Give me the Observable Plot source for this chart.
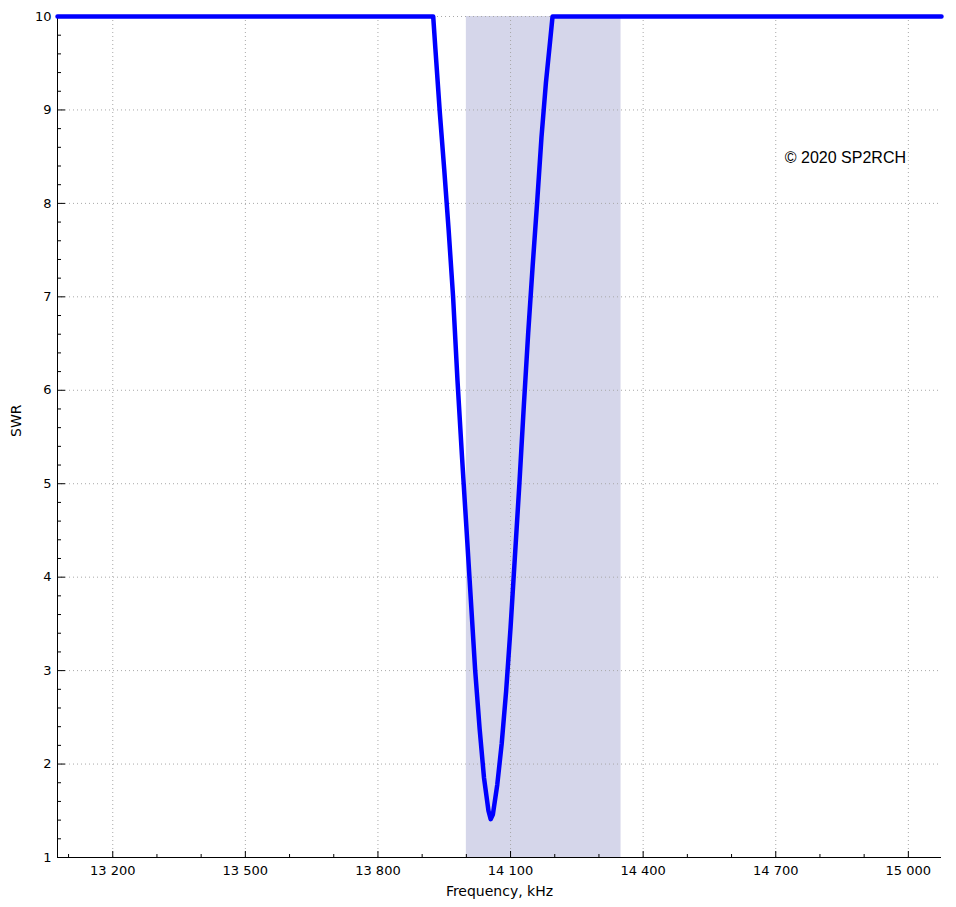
<!DOCTYPE html>
<html>
<head>
<meta charset="utf-8">
<script src="https://cdn.jsdelivr.net/npm/d3@7"></script>
<script src="https://cdn.jsdelivr.net/npm/@observablehq/plot@0.6"></script>
<style>
  body { margin: 0; background: #ffffff; }
  #chart svg { display: block; }
</style>
</head>
<body>
<div id="chart"></div>
<script>
// Measured SWR curve (frequency in kHz)
const freq = [13075, 13925, 13930, 13940, 13950, 13960, 13970, 13980, 13990, 14000,
              14010, 14020, 14030, 14040, 14050, 14055, 14060, 14070, 14080, 14090, 14100,
              14110, 14120, 14130, 14140, 14150, 14160, 14170, 14180, 14190, 14195, 15075];
const swr  = [10, 10, 9.65, 8.97, 8.36, 7.71, 7.0, 6.1, 5.3, 4.54,
              3.77, 3.0, 2.38, 1.85, 1.5, 1.41, 1.46, 1.78, 2.22, 2.78, 3.46,
              4.23, 5.0, 5.83, 6.62, 7.33, 8.0, 8.71, 9.29, 9.76, 10, 10];

// 20 m amateur band
const bandStart = [14000];
const bandEnd = [14350];

// Axes
const xDomain = [13075, 15075];
const yDomain = [1, 10];
const xMajorTicks = [13200, 13500, 13800, 14100, 14400, 14700, 15000];
const xMinorTicks = [13100, 13300, 13400, 13600, 13700, 13900, 14000, 14200, 14300,
                     14500, 14600, 14800, 14900];
const yMajorTicks = [1, 2, 3, 4, 5, 6, 7, 8, 9, 10];
const yMinorTicks = [1.2, 1.4, 1.6, 1.8, 2.2, 2.4, 2.6, 2.8, 3.2, 3.4, 3.6, 3.8,
                     4.2, 4.4, 4.6, 4.8, 5.2, 5.4, 5.6, 5.8, 6.2, 6.4, 6.6, 6.8,
                     7.2, 7.4, 7.6, 7.8, 8.2, 8.4, 8.6, 8.8, 9.2, 9.4, 9.6, 9.8];

const xLabel = "Frequency, kHz";
const yLabel = "SWR";
const note = "© 2020 SP2RCH";

const data = freq.map((f, i) => ({f, s: swr[i]}));
const band = bandStart.map((s, i) => ({start: s, end: bandEnd[i]}));

const W = 956, H = 907;
const mL = 57, mR = 15, mT = 16, mB = 50;
const frameW = W - mL - mR;
const frameH = H - mT - mB;

const fmt = d => d3.format(",")(d).replace(/,/g, " ");
const gridStyle = {stroke: "#a8a8a8", strokeWidth: 1, strokeDasharray: "1,3"};

const plot = Plot.plot({
  width: W,
  height: H,
  marginLeft: mL,
  marginRight: mR,
  marginTop: mT,
  marginBottom: mB,
  style: {fontFamily: "'DejaVu Sans', sans-serif", fontSize: "13px", color: "#000", background: "#fff"},
  x: {domain: xDomain, ticks: xMajorTicks, tickFormat: fmt, tickSize: 0, tickPadding: 8, label: null},
  y: {domain: yDomain, ticks: yMajorTicks, tickSize: 0, tickPadding: 6, label: null},
  marks: [
    Plot.rect(band, {x1: "start", x2: "end", fill: "#d5d6ea"}),
    Plot.ruleX(xMajorTicks, gridStyle),
    Plot.ruleY(yMajorTicks.filter(v => v > yDomain[0]), gridStyle),
    // inward ticks
    Plot.ruleX(xMajorTicks, {insetTop: frameH - 6, stroke: "#000"}),
    Plot.ruleX(xMinorTicks, {insetTop: frameH - 3, stroke: "#000"}),
    Plot.ruleY(yMajorTicks, {insetRight: frameW - 8, stroke: "#000"}),
    Plot.ruleY(yMinorTicks, {insetRight: frameW - 4, stroke: "#000"}),
    // axis lines
    Plot.ruleX([xDomain[0]], {stroke: "#000"}),
    Plot.ruleY([yDomain[0]], {stroke: "#000"}),
    // SWR curve
    Plot.line(data, {x: "f", y: "s", stroke: "#0000ff", strokeWidth: 4.5, strokeLinejoin: "round"}),
    // labels
    Plot.text([xLabel], {text: d => d, frameAnchor: "bottom", lineAnchor: "middle", dy: 34, fontSize: 14}),
    Plot.text([yLabel], {text: d => d, frameAnchor: "left", lineAnchor: "middle", rotate: -90, dx: -40.5, fontSize: 14}),
    Plot.text([note], {text: d => d, frameAnchor: "top-right", textAnchor: "end", lineAnchor: "middle",
                       dx: -35.5, dy: 141.5, fontFamily: "'Liberation Sans', Arial, sans-serif", fontSize: 16})
  ]
});

document.getElementById("chart").appendChild(plot);
</script>
</body>
</html>
